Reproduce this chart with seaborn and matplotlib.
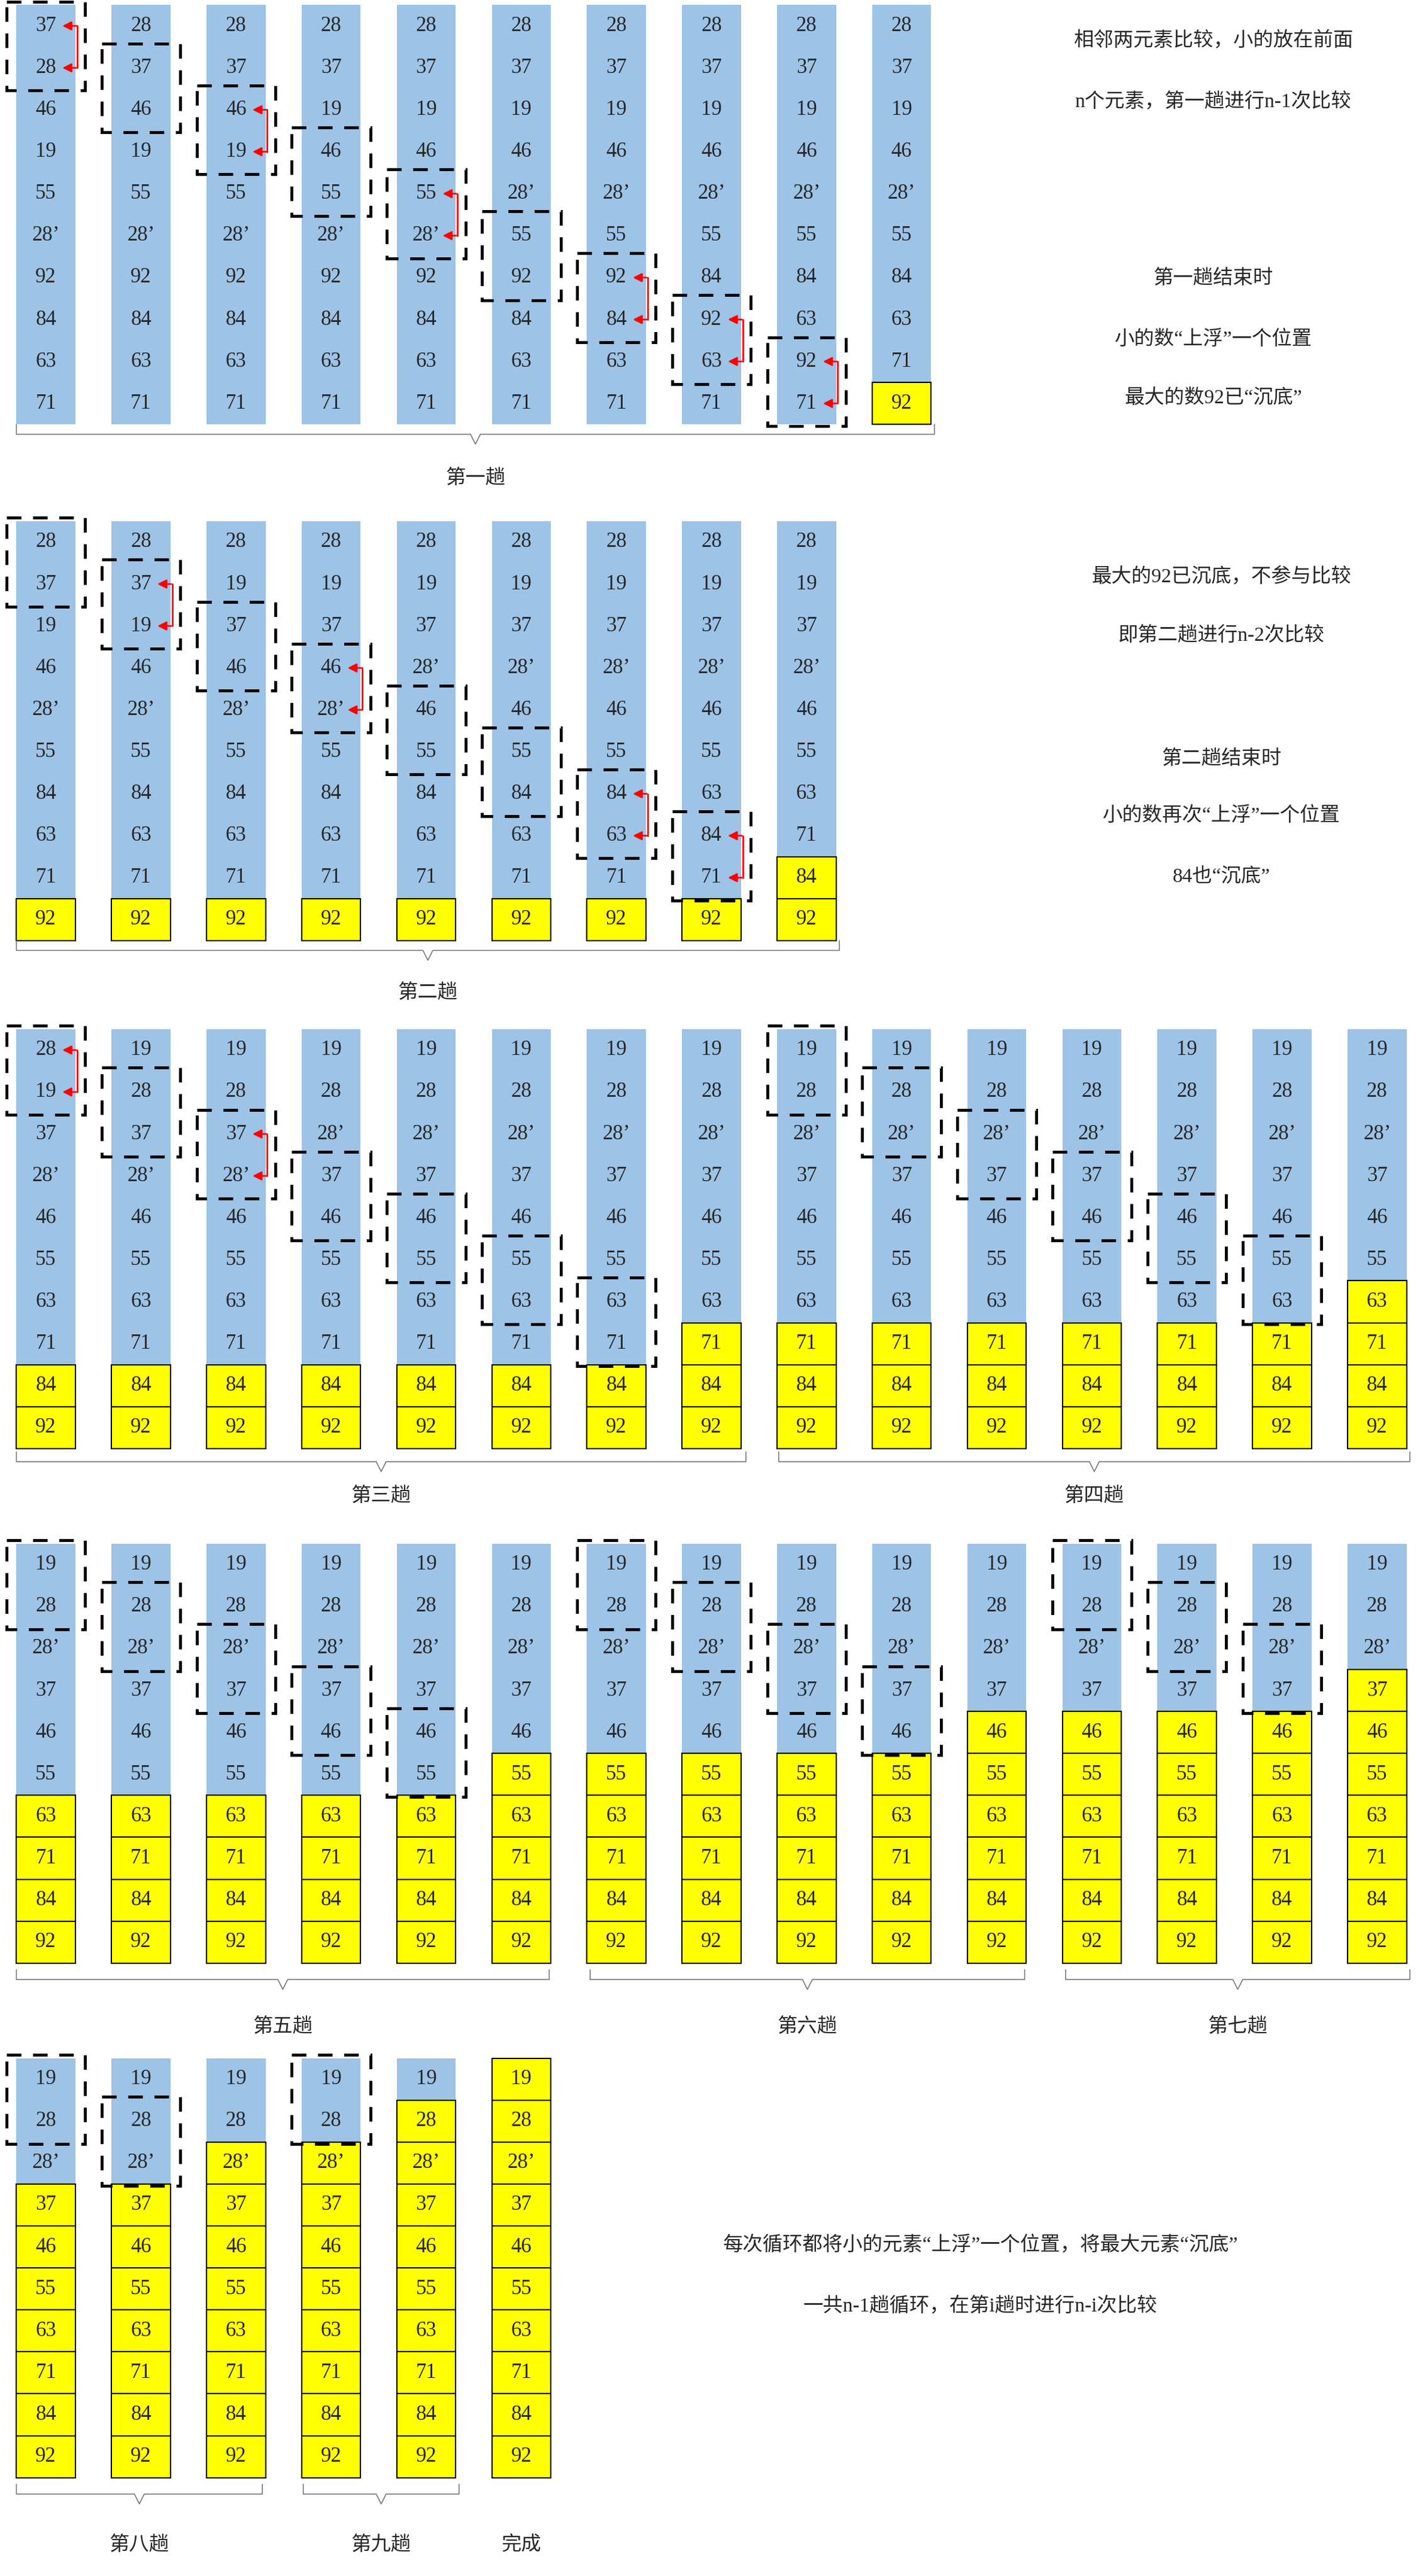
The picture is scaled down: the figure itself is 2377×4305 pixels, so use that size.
import matplotlib.pyplot as plt
import matplotlib.patches as mpatches
import seaborn as sns

sns.set_theme(style='white')
plt.rcParams['font.family'] = ['Liberation Serif', 'Noto Sans CJK SC', 'DejaVu Sans']

# starting array of the first pass; later passes continue from it
start = ['37', '28', '46', '19', '55', '28\u2019', '92', '84', '63', '71']
pass_names = ['第一趟', '第二趟', '第三趟', '第四趟', '第五趟', '第六趟', '第七趟', '第八趟', '第九趟']

# (row top, first column x) for each pass, in reference-pixel units / 2.738
pass_pos = [(3, 28), (318, 28), (628, 28), (628, 492), (942, 28), (942, 376), (942, 666), (1256, 28), (1256, 202)]
brace_span = [(10, 570), (10, 512), (10, 455), (475, 860), (10, 335), (360, 625), (650, 860), (10, 160), (185, 280)]
brace_y = [265, 580, 892, 892, 1208, 1208, 1208, 1522, 1522]
label_y = [292, 606, 913, 913, 1237, 1237, 1237, 1553, 1553]
done_x = 318

notes = [
    (740, 25, '相邻两元素比较，小的放在前面'),
    (740, 62, 'n个元素，第一趟进行n-1次比较'),
    (740, 170, '第一趟结束时'),
    (740, 207, '小的数\u201c上浮\u201d一个位置'),
    (740, 243, '最大的数92已\u201c沉底\u201d'),
    (745, 352, '最大的92已沉底，不参与比较'),
    (745, 388, '即第二趟进行n-2次比较'),
    (745, 463, '第二趟结束时'),
    (745, 498, '小的数再次\u201c上浮\u201d一个位置'),
    (745, 535, '84也\u201c沉底\u201d'),
    (598, 1370, '每次循环都将小的元素\u201c上浮\u201d一个位置，将最大元素\u201c沉底\u201d'),
    (598, 1407, '一共n-1趟循环，在第i趟时进行n-i次比较'),
]

BLUE = '#9DC3E6'
YEL = '#FFFF00'
CH = 25.6   # cell height
CW = 36     # column width
DX = 58     # column spacing

fig = plt.figure(figsize=(23.77, 43.05), dpi=100)
ax = fig.add_axes([0, 0, 1, 1])
ax.set_xlim(0, 868)
ax.set_ylim(1572, 0)
ax.axis('off')


def val(s):
    return int(s.replace('\u2019', ''))


def draw_column(xc, top, arr, n_yellow):
    n = len(arr)
    nb = n - n_yellow
    if nb > 0:
        ax.add_patch(mpatches.Rectangle((xc - CW / 2, top), CW, nb * CH, color=BLUE, lw=0))
    for i in range(nb, n):
        ax.add_patch(mpatches.Rectangle((xc - CW / 2, top + i * CH), CW, CH, facecolor=YEL,
                                        edgecolor='black', lw=1.5))
    for i, s in enumerate(arr):
        ax.text(xc, top + (i + 0.5) * CH, s, ha='center', va='center', fontsize=25)


def draw_box(xc, top, j, swap):
    y0 = top + j * CH - 2
    ax.add_patch(mpatches.Rectangle((xc - CW / 2 - 6, y0), CW + 12, 2 * CH + 3, fill=False,
                                    edgecolor='black', lw=3.5, ls=(0, (5, 4))))
    if swap:
        xa = xc + 19
        ya, yb = top + 0.5 * CH, top + 1.5 * CH
        ya += j * CH
        yb += j * CH
        ax.plot([xa, xa], [ya, yb], color='red', lw=2)
        for yy in (ya, yb):
            ax.annotate('', xy=(xc + 9, yy), xytext=(xa + 0.5, yy),
                        arrowprops=dict(arrowstyle='-|>', color='red', lw=2, mutation_scale=22))


def draw_brace(x0, x1, y):
    xm = (x0 + x1) / 2
    ax.plot([x0, x0, xm - 3, xm, xm + 3, x1, x1], [y - 6, y, y, y + 6, y, y, y - 6],
            color='#777777', lw=1.2)


arr = list(start)
for k in range(9):
    top, x0 = pass_pos[k]
    n_yellow = k
    ncomp = 9 - k
    for j in range(ncomp):
        xc = x0 + j * DX
        draw_column(xc, top, arr, n_yellow)
        swap = val(arr[j]) > val(arr[j + 1])
        draw_box(xc, top, j, swap)
        if swap:
            arr[j], arr[j + 1] = arr[j + 1], arr[j]
    draw_column(x0 + ncomp * DX, top, arr, k + 1)
    draw_brace(brace_span[k][0], brace_span[k][1], brace_y[k])
    ax.text((brace_span[k][0] + brace_span[k][1]) / 2, label_y[k], pass_names[k],
            ha='center', va='center', fontsize=24)

draw_column(done_x, 1256, arr, 10)
ax.text(done_x, 1553, '完成', ha='center', va='center', fontsize=24)

for x, y, s in notes:
    ax.text(x, y, s, ha='center', va='center', fontsize=24)

fig.savefig('out.png', dpi=100)
